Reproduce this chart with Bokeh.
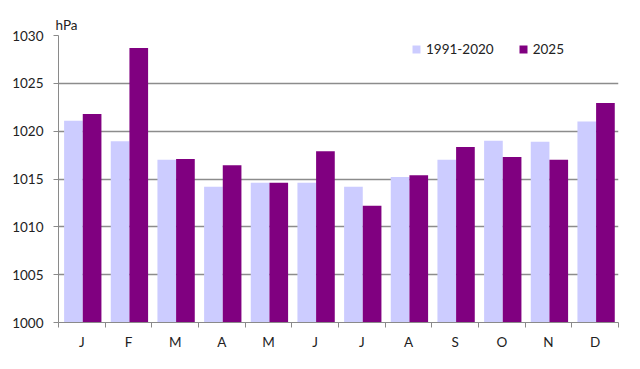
from bokeh.plotting import figure
from bokeh.models import Range1d, FixedTicker, Legend, LegendItem, ColumnDataSource, PolyAnnotation
from bokeh.embed import file_html
from bokeh.resources import INLINE
import numpy as np

months = ["J", "F", "M", "A", "M", "J", "J", "A", "S", "O", "N", "D"]
normal_1991_2020 = [1021.1, 1018.95, 1017.0, 1014.2, 1014.6, 1014.6, 1014.2, 1015.2, 1017.0, 1019.0, 1018.9, 1021.0]
year_2025 = [1021.8, 1028.7, 1017.1, 1016.45, 1014.6, 1017.9, 1012.2, 1015.4, 1018.35, 1017.3, 1017.0, 1022.95]
y_ticks = [1000, 1005, 1010, 1015, 1020, 1025, 1030]
unit_label = "hPa"
series_names = ["1991-2020", "2025"]

FONT = "Lato"
LIGHT = "#CCCCFF"
DARK = "#800080"

idx = np.arange(len(months))
src = ColumnDataSource(dict(
    x1=idx + 0.32, x2=idx + 0.72, a=normal_1991_2020, b=year_2025,
))

p = figure(width=640, height=369, output_backend="svg", toolbar_location=None,
           x_range=Range1d(0, 12), y_range=Range1d(1000, 1030),
           min_border_left=58, min_border_right=22, min_border_top=35, min_border_bottom=47)
p.outline_line_color = None

# unit label as a left-aligned title above the frame
p.title.text = unit_label
p.title.align = "left"
p.title.offset = -3
p.title.standoff = 6
p.title.text_font = FONT
p.title.text_font_size = "13.5px"
p.title.text_font_style = "normal"
p.title.text_color = "#222222"

r1 = p.vbar(x="x1", top="a", bottom=1000, width=0.40, source=src, fill_color=LIGHT, line_color=None)
r2 = p.vbar(x="x2", top="b", bottom=1000, width=0.40, source=src, fill_color=DARK, line_color=None)

# y axis
p.yaxis.ticker = FixedTicker(ticks=y_ticks)
p.yaxis.axis_line_color = "#8a8a8a"
p.yaxis.major_tick_line_color = "#8a8a8a"
p.yaxis.major_tick_in = 0
p.yaxis.major_tick_out = 5
p.yaxis.minor_tick_line_color = None
p.yaxis.major_label_text_font = FONT
p.yaxis.major_label_text_font_size = "13.5px"
p.yaxis.major_label_text_color = "#222222"
p.yaxis.major_label_standoff = 10

# x axis
p.xaxis.ticker = FixedTicker(ticks=list(idx + 0.5), minor_ticks=list(range(13)))
p.xaxis.major_label_overrides = {float(i + 0.5): m for i, m in enumerate(months)}
p.xaxis.axis_line_color = "#8a8a8a"
p.xaxis.major_tick_line_color = None
p.xaxis.minor_tick_line_color = "#8a8a8a"
p.xaxis.minor_tick_in = 0
p.xaxis.minor_tick_out = 5
p.xaxis.major_label_text_font = FONT
p.xaxis.major_label_text_font_size = "13.5px"
p.xaxis.major_label_text_color = "#222222"
p.xaxis.major_label_standoff = 5

p.xgrid.grid_line_color = None
p.ygrid.grid_line_color = "#8c8c8c"
p.ygrid.grid_line_width = 1.3

legend = Legend(items=[LegendItem(label=series_names[0], renderers=[r1]),
                       LegendItem(label=series_names[1], renderers=[r2])],
                orientation="horizontal", location=(353, 265),
                border_line_color=None, background_fill_alpha=0,
                label_text_font=FONT, label_text_font_size="13.5px", label_text_color="#222222",
                glyph_width=10, glyph_height=10, spacing=24, label_standoff=5, padding=0, margin=0)
p.add_layout(legend)

# decorative swirl logo (bottom-left corner), canvas units
cx, cy = 22.5, 346.5
c_left = np.array([0x3a, 0x9c, 0xd4])
c_right = np.array([0x5a, 0xc8, 0x98])
n_seg = 18
th = np.linspace(np.radians(215), np.radians(700), n_seg + 1)
for k in range(n_seg):
    t = np.linspace(th[k], th[k + 1] + 0.02, 8)
    frac = (t - th[0]) / (th[-1] - th[0])
    r = 14.5 - 9.5 * frac
    w = 5.5 - 3.0 * frac
    ox = cx + (r + w / 2) * np.cos(t)
    oy = cy - (r + w / 2) * np.sin(t)
    ix = cx + (r - w / 2) * np.cos(t)
    iy = cy - (r - w / 2) * np.sin(t)
    px = np.concatenate([ox, ix[::-1]])
    py = np.concatenate([oy, iy[::-1]])
    f = np.clip((np.mean(px) - 8) / 28, 0, 1)
    col = c_left * (1 - f) + c_right * f
    color = "#%02x%02x%02x" % tuple(int(v) for v in col)
    p.add_layout(PolyAnnotation(xs=list(px), ys=list(py),
                                xs_units="canvas", ys_units="canvas",
                                fill_color=color, fill_alpha=1.0, line_color=None))

open("out.html", "w").write(file_html(p, INLINE))
